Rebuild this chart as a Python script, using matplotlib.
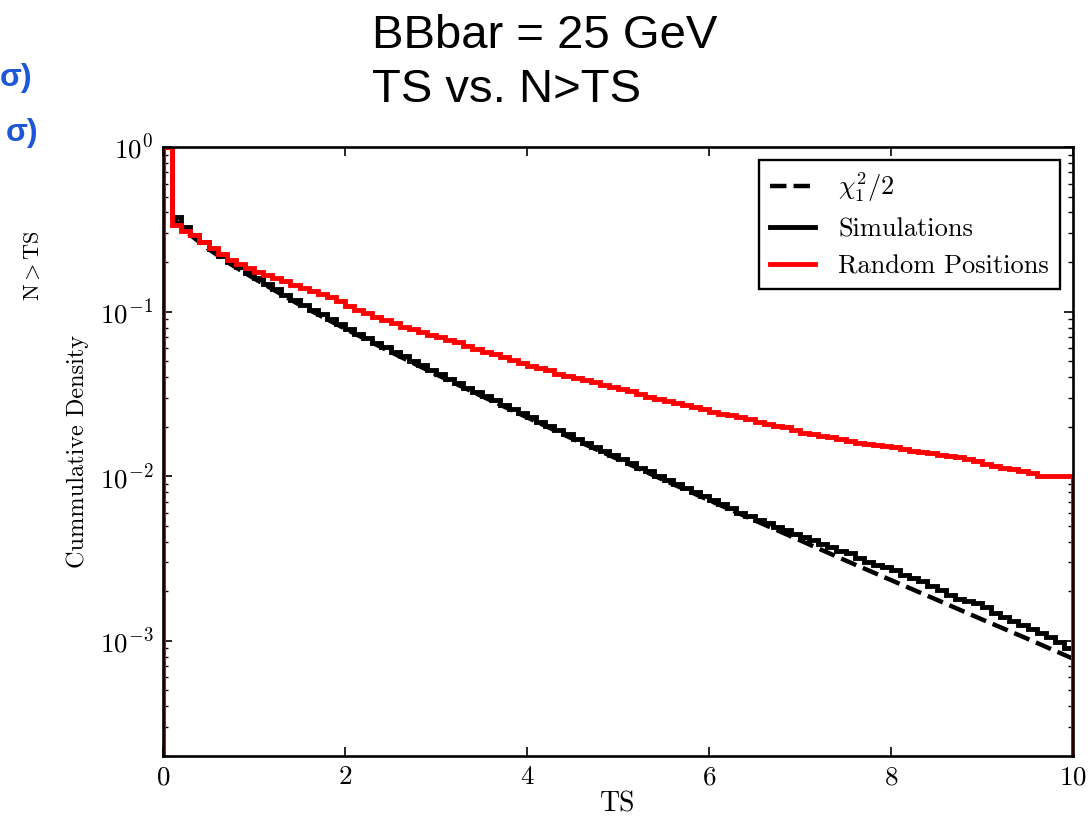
import numpy as np
import matplotlib
matplotlib.use("Agg")
import matplotlib.pyplot as plt

plt.rcParams["font.family"] = "serif"
plt.rcParams["font.serif"] = ["cmr10"]
plt.rcParams["mathtext.fontset"] = "cm"
plt.rcParams["axes.formatter.use_mathtext"] = True

# Histogram bin edges for TS (0 .. 10, width 0.1)
TS_EDGES = np.round(np.arange(0, 10.0001, 0.1), 2)

# N > TS for the simulated null fits, one value per bin
SIM_VALUES = [
    1.0, 0.376, 0.327, 0.292, 0.264, 0.240, 0.219, 0.201, 0.186, 0.171,
    0.159, 0.147, 0.137, 0.127, 0.118, 0.110, 0.103, 0.0962, 0.0899, 0.0840,
    0.0787, 0.0736, 0.0690, 0.0647, 0.0607, 0.0569, 0.0534, 0.0502, 0.0471, 0.0443,
    0.0416, 0.0391, 0.0368, 0.0346, 0.0326, 0.0307, 0.0289, 0.0272, 0.0256, 0.0241,
    0.0228, 0.0214, 0.0202, 0.0191, 0.0180, 0.0169, 0.0160, 0.0151, 0.0142, 0.0134,
    0.0127, 0.0120, 0.0113, 0.0107, 0.0101, 0.0095, 0.0090, 0.0085, 0.0080, 0.0076,
    0.00715, 0.0068, 0.0064, 0.0060, 0.0057, 0.0054, 0.0052, 0.0049, 0.0047, 0.00445,
    0.0043, 0.0041, 0.0039, 0.0037, 0.0035, 0.0034, 0.0032, 0.0030, 0.0029, 0.0028,
    0.0027, 0.0025, 0.0024, 0.0023, 0.00215, 0.00205, 0.0019, 0.0018, 0.00175, 0.0017,
    0.0016, 0.00148, 0.0014, 0.00132, 0.00125, 0.00118, 0.00112, 0.00105, 0.00098, 0.0009,
]

# N > TS at random sky positions, one value per bin
RANDOM_VALUES = [
    1.0, 0.336, 0.310, 0.290, 0.265, 0.245, 0.225, 0.207, 0.195, 0.184,
    0.175, 0.168, 0.160, 0.153, 0.146, 0.140, 0.134, 0.128, 0.122, 0.116,
    0.108, 0.103, 0.098, 0.093, 0.089, 0.085, 0.081, 0.078, 0.075, 0.0725,
    0.0700, 0.0675, 0.0650, 0.0615, 0.0590, 0.0570, 0.0550, 0.0530, 0.0510, 0.0490,
    0.0470, 0.0455, 0.0440, 0.0420, 0.0405, 0.0395, 0.0385, 0.0372, 0.0360, 0.0350,
    0.0340, 0.0330, 0.0318, 0.0305, 0.0295, 0.0285, 0.0278, 0.0270, 0.0262, 0.0255,
    0.0247, 0.0240, 0.0234, 0.0228, 0.0222, 0.0214, 0.0208, 0.0203, 0.0198, 0.0190,
    0.0184, 0.0180, 0.0176, 0.0172, 0.0168, 0.0163, 0.0160, 0.0158, 0.0155, 0.0152,
    0.0150, 0.0146, 0.0142, 0.0140, 0.0138, 0.0135, 0.0133, 0.0131, 0.0128, 0.0124,
    0.0119, 0.0116, 0.0113, 0.0111, 0.0108, 0.0105, 0.0101, 0.0100, 0.0100, 0.0100,
]

# chi^2_1 / 2 reference curve
CHI2_TS = [0.1, 0.2, 0.3, 0.5, 0.75, 1.0, 1.5, 2.0, 2.5, 3.0, 3.5, 4.0, 4.5, 5.0,
           5.5, 6.0, 6.5, 7.0, 7.5, 8.0, 8.5, 9.0, 9.5, 10.0]
CHI2_VALUES = [0.376, 0.327, 0.292, 0.240, 0.193, 0.159, 0.110, 0.0787, 0.0569,
               0.0416, 0.0307, 0.0228, 0.0169, 0.0127, 0.0095, 0.00715, 0.0054,
               0.00408, 0.00308, 0.00234, 0.00178, 0.00135, 0.00103, 0.00078]

fig = plt.figure(figsize=(10.92, 8.17), dpi=100)
ax = fig.add_axes([0.1493, 0.0747, 0.8333, 0.7454])

ax.plot(CHI2_TS, CHI2_VALUES, "k--", lw=3.2, zorder=2, label=r"$\chi^2_1/2$")
ax.stairs(SIM_VALUES, TS_EDGES, baseline=1e-6, color="black", lw=3.5,
          zorder=3, label="Simulations")
ax.stairs(RANDOM_VALUES, TS_EDGES, baseline=1e-6, color="red", lw=3.5,
          zorder=4, label="Random Positions")

ax.set_yscale("log")
ax.set_xlim(0, 10)
ax.set_ylim(2e-4, 1)
ax.set_xticks([0, 2, 4, 6, 8, 10])

for side in ax.spines.values():
    side.set_linewidth(1.9)
    side.set_zorder(5)
ax.tick_params(which="both", direction="in", top=True, right=True,
               labelsize=19.5, pad=7)
ax.tick_params(which="major", length=6.5, width=1.2)
ax.tick_params(which="minor", length=3.5, width=1.0)

ax.set_xlabel("TS", fontsize=20, labelpad=1)
ax.set_ylabel("Cummulative Density", fontsize=17.5, labelpad=8)

leg = ax.legend(loc="upper right", fontsize=19, fancybox=False,
                edgecolor="black", framealpha=1, handlelength=1.7,
                borderaxespad=0.5, labelspacing=0.5, handletextpad=0.9,
                borderpad=0.4)
leg.get_frame().set_linewidth(1.7)

# slide text around the plot
fig.text(372 / 1092, 1 - 14 / 817, "BBbar = 25 GeV\nTS vs. N>TS",
         family="Liberation Sans", fontsize=34, va="top", ha="left",
         linespacing=1.3)
fig.text(32 / 1092, 1 - 78 / 817, "σ)", family="Liberation Sans",
         fontweight="bold", fontsize=23, color="#1c57d9", ha="right", va="center")
fig.text(38 / 1092, 1 - 133 / 817, "σ)", family="Liberation Sans",
         fontweight="bold", fontsize=23, color="#1c57d9", ha="right", va="center")
fig.text(33 / 1092, 1 - 266 / 817, r"$\mathrm{N} > \mathrm{TS}$",
         fontsize=16, rotation=90, ha="center", va="center")

fig.savefig("out.png", dpi=100)
